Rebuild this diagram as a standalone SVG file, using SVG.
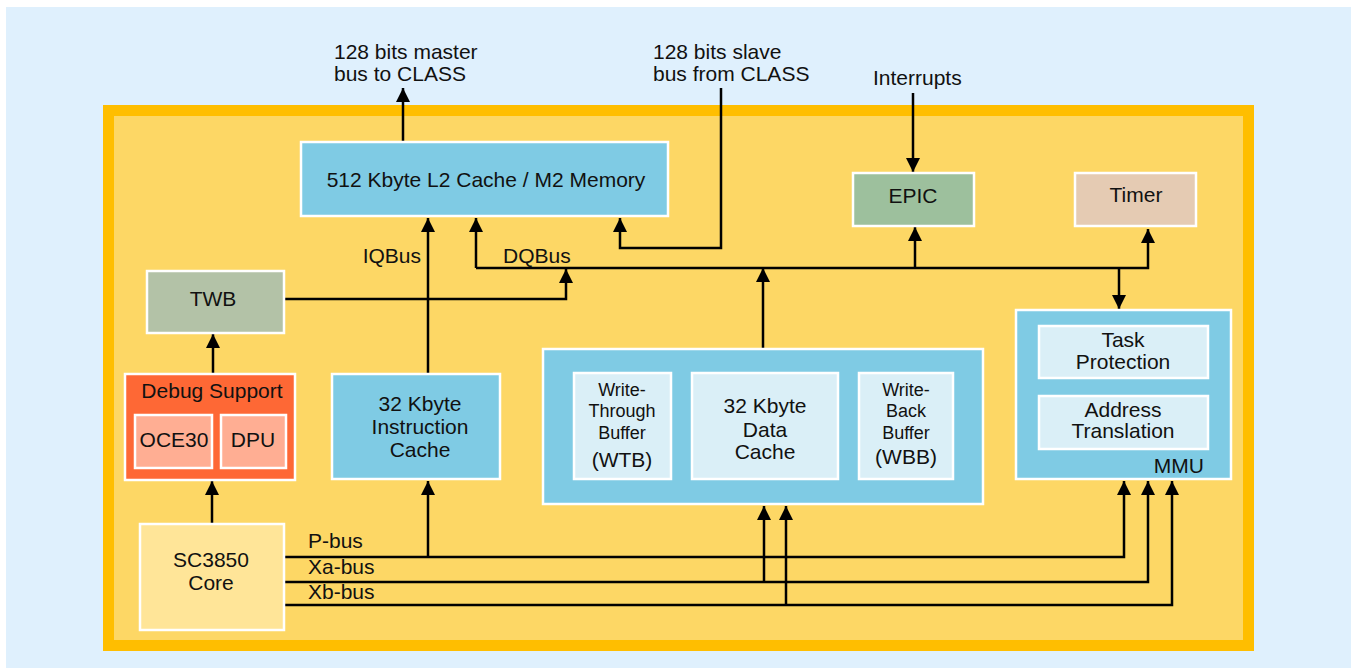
<svg xmlns="http://www.w3.org/2000/svg" width="1351" height="668" viewBox="0 0 1351 668">
<defs>
<style>
text{font-family:"Liberation Sans",Arial,sans-serif;font-size:21px;fill:#111;}
.m{text-anchor:middle;}
.s{font-size:18px;}
.box{stroke:#fff;stroke-width:2.5;}
.blue{fill:#7FCBE4;}
.lt{fill:#DAEFF7;}
.ln{fill:none;stroke:#000;stroke-width:2.5;}
</style>
<marker id="ah" viewBox="0 0 14 14" refX="14" refY="7" markerUnits="userSpaceOnUse" markerWidth="14" markerHeight="14" orient="auto">
<path d="M0,0 L14,7 L0,14 z" fill="#000"/>
</marker>
</defs>
<rect x="0" y="0" width="1351" height="668" fill="#fff"/>
<rect x="6" y="7" width="1345" height="661" fill="#DFF0FD"/>
<rect x="108.5" y="110.5" width="1140" height="535" fill="#FDD765" stroke="#FFBE00" stroke-width="11"/>

<g id="labels">
<text x="334" y="59">128 bits master</text>
<text x="334" y="81">bus to CLASS</text>
<text x="653" y="59">128 bits slave</text>
<text x="653" y="81">bus from CLASS</text>
<text x="873" y="85">Interrupts</text>
<text x="421" y="263" text-anchor="end">IQBus</text>
<text x="503" y="263">DQBus</text>
<text x="308" y="548">P-bus</text>
<text x="308" y="574">Xa-bus</text>
<text x="308" y="599">Xb-bus</text>
</g>

<g id="connectors">
<path class="ln" d="M403,141 V88" marker-end="url(#ah)"/>
<path class="ln" d="M721,88 V248 H620 V218" marker-end="url(#ah)"/>
<path class="ln" d="M913,93 V172" marker-end="url(#ah)"/>
<path class="ln" d="M476,268 H1148 V229" marker-end="url(#ah)"/>
<path class="ln" d="M476,268 V218" marker-end="url(#ah)"/>
<path class="ln" d="M915,268 V227" marker-end="url(#ah)"/>
<path class="ln" d="M1119,268 V309" marker-end="url(#ah)"/>
<path class="ln" d="M763,348 V268" marker-end="url(#ah)"/>
<path class="ln" d="M284,299 H566 V269" marker-end="url(#ah)"/>
<path class="ln" d="M428,373 V218" marker-end="url(#ah)"/>
<path class="ln" d="M213,373 V334" marker-end="url(#ah)"/>
<path class="ln" d="M212,523 V481" marker-end="url(#ah)"/>
<path class="ln" d="M428,557 V481" marker-end="url(#ah)"/>
<path class="ln" d="M284,557 H1124 V481" marker-end="url(#ah)"/>
<path class="ln" d="M284,582 H1148 V481" marker-end="url(#ah)"/>
<path class="ln" d="M284,605 H1172 V481" marker-end="url(#ah)"/>
<path class="ln" d="M764,582 V506" marker-end="url(#ah)"/>
<path class="ln" d="M786,605 V506" marker-end="url(#ah)"/>
<path class="ln" d="M838,427 H858" marker-end="url(#ah)"/>
</g>

<g id="l2">
<rect class="box blue" x="301" y="142" width="367" height="74"/>
<text class="m" x="486" y="187">512 Kbyte L2 Cache / M2 Memory</text>
</g>
<g id="epic">
<rect class="box" fill="#9DC09D" x="853" y="173" width="121" height="53"/>
<text class="m" x="913" y="203">EPIC</text>
</g>
<g id="timer">
<rect class="box" fill="#E5CBB3" x="1075" y="173" width="121" height="53"/>
<text class="m" x="1136" y="202">Timer</text>
</g>
<g id="twb">
<rect class="box" fill="#B3C2A7" x="147" y="271" width="137" height="62"/>
<text class="m" x="213" y="306">TWB</text>
</g>
<g id="debug">
<rect class="box" fill="#FE6835" x="125" y="374" width="170" height="106"/>
<text class="m" x="212" y="398">Debug Support</text>
<g id="oce30">
<rect class="box" fill="#FFAE93" x="135" y="415" width="77" height="53"/>
<text class="m" x="174" y="447">OCE30</text>
</g>
<g id="dpu">
<rect class="box" fill="#FFAE93" x="221" y="415" width="65" height="53"/>
<text class="m" x="253" y="447">DPU</text>
</g>
</g>
<g id="icache">
<rect class="box blue" x="332" y="374" width="168" height="105"/>
<text class="m" x="420" y="411">32 Kbyte</text>
<text class="m" x="420" y="434">Instruction</text>
<text class="m" x="420" y="457">Cache</text>
</g>
<g id="core">
<rect class="box" fill="#FFE598" x="140" y="524" width="144" height="106"/>
<text class="m" x="211" y="567">SC3850</text>
<text class="m" x="211" y="590">Core</text>
</g>
<g id="dblock">
<rect class="box blue" x="543" y="349" width="440" height="155"/>
<g id="wtb">
<rect class="box lt" x="574" y="373" width="97" height="106"/>
<text class="m s" x="622" y="396">Write-</text>
<text class="m s" x="622" y="417">Through</text>
<text class="m s" x="622" y="439">Buffer</text>
<text class="m" x="622" y="467">(WTB)</text>
</g>
<g id="dcache">
<rect class="box lt" x="692" y="373" width="146" height="106"/>
<text class="m" x="765" y="413">32 Kbyte</text>
<text class="m" x="765" y="437">Data</text>
<text class="m" x="765" y="459">Cache</text>
</g>
<g id="wbb">
<rect class="box lt" x="859" y="373" width="94" height="106"/>
<text class="m s" x="906" y="396">Write-</text>
<text class="m s" x="906" y="417">Back</text>
<text class="m s" x="906" y="439">Buffer</text>
<text class="m" x="906" y="464">(WBB)</text>
</g>
</g>
<g id="mmu">
<rect class="box blue" x="1016" y="310" width="215" height="169"/>
<g id="taskprot">
<rect class="box lt" x="1039" y="326" width="169" height="52"/>
<text class="m" x="1123" y="347">Task</text>
<text class="m" x="1123" y="369">Protection</text>
</g>
<g id="addrtrans">
<rect class="box lt" x="1039" y="396" width="169" height="53"/>
<text class="m" x="1123" y="417">Address</text>
<text class="m" x="1123" y="438">Translation</text>
</g>
<text x="1204" y="473" text-anchor="end">MMU</text>
</g>
</svg>
